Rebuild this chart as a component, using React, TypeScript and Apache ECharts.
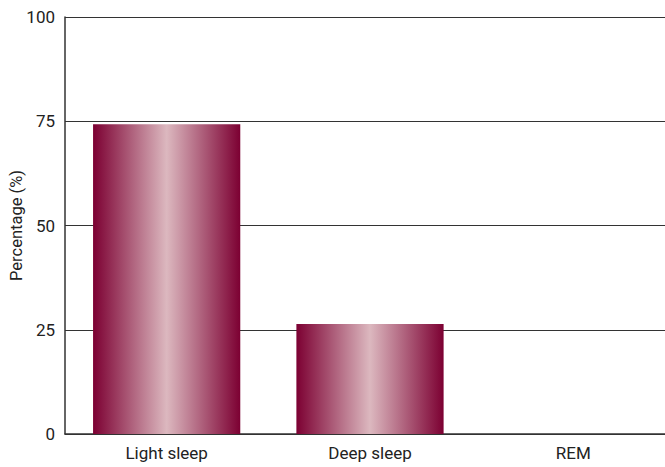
import React, { useEffect, useRef } from "react";
import * as echarts from "echarts";

const categories = ["Light sleep", "Deep sleep", "REM"];
const percentages = [74.3, 26.4, 0];
const yTicks = [0, 25, 50, 75, 100];

const FONT = "Roboto, 'Liberation Sans', Arial, sans-serif";

export default function App() {
  const ref = useRef<HTMLDivElement>(null);
  useEffect(() => {
    if (!ref.current) return;
    const chart = echarts.init(ref.current, undefined, { renderer: "svg" });
    chart.setOption({
      animation: false,
      backgroundColor: "#ffffff",
      grid: { left: 65, right: -10, top: 17, bottom: 33, containLabel: false, outerBoundsMode: "none" },
      xAxis: {
        type: "category",
        data: categories,
        axisLine: { show: true, lineStyle: { color: "#333333", width: 1.5 } },
        axisTick: { show: false },
        axisLabel: { color: "#222222", fontSize: 17, fontFamily: FONT, margin: 10 },
      },
      yAxis: {
        type: "value",
        min: yTicks[0],
        max: yTicks[yTicks.length - 1],
        interval: 25,
        name: "Percentage (%)",
        nameLocation: "middle",
        nameGap: 40,
        nameMoveOverlap: false,
        nameTextStyle: { color: "#222222", fontSize: 16.5, fontFamily: FONT },
        axisLine: { show: true, lineStyle: { color: "#333333", width: 1.5 } },
        axisTick: { show: false },
        axisLabel: { color: "#222222", fontSize: 17, fontFamily: FONT, margin: 10 },
        splitLine: { show: true, lineStyle: { color: "#333333", width: 1 } },
      },
      series: [
        {
          type: "bar",
          data: percentages,
          barWidth: "72.4%",
          itemStyle: {
            color: new echarts.graphic.LinearGradient(0, 0, 1, 0, [
              { offset: 0, color: "#7c0032" },
              { offset: 0.5, color: "#dcb8bf" },
              { offset: 1, color: "#7c0032" },
            ]),
          },
        },
      ],
    });
    return () => chart.dispose();
  }, []);
  return (
    <div
      ref={ref}
      style={{ position: "fixed", left: 0, top: 0, width: 665, height: 467, overflow: "hidden" }}
    />
  );
}
